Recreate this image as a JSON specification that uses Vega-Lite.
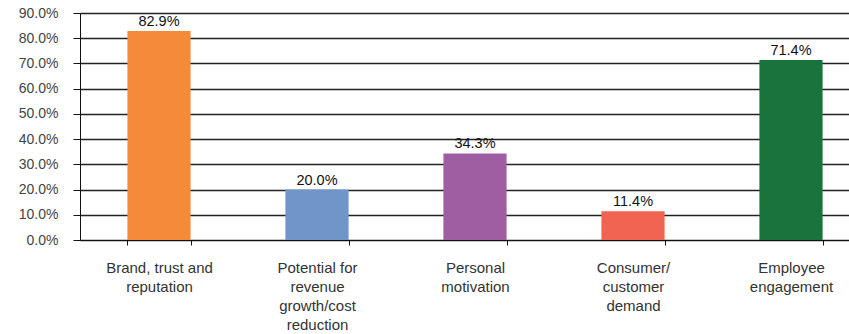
{
  "$schema": "https://vega.github.io/schema/vega-lite/v6.json",
  "autosize": {"type": "none"},
  "padding": {"left": 80, "top": 13, "right": 0, "bottom": 94},
  "width": 769,
  "height": 227,
  "background": "white",
  "config": {
    "view": {"stroke": null},
    "font": "Liberation Sans"
  },
  "data": {
    "values": [
      {"category": "Brand, trust and|reputation", "value": 0.829, "color": "#F58B3A"},
      {"category": "Potential for|revenue|growth/cost|reduction", "value": 0.200, "color": "#7095C8"},
      {"category": "Personal|motivation", "value": 0.343, "color": "#A05EA2"},
      {"category": "Consumer/|customer|demand", "value": 0.114, "color": "#F06451"},
      {"category": "Employee|engagement", "value": 0.714, "color": "#18743C"}
    ]
  },
  "encoding": {
    "x": {
      "field": "category",
      "type": "nominal",
      "sort": null,
      "scale": {"range": [0, 790], "paddingInner": 0.6, "paddingOuter": 0.3},
      "axis": {
        "title": null,
        "labelAngle": 0,
        "labelExpr": "split(datum.label, '|')",
        "labelFontSize": 15,
        "labelColor": "#333333",
        "labelLineHeight": 19,
        "labelPadding": 15,
        "tickBand": "extent",
        "tickSize": 5,
        "tickColor": "#111111",
        "domainColor": "#111111",
        "labelLimit": 200
      }
    },
    "y": {
      "field": "value",
      "type": "quantitative",
      "scale": {"domain": [0, 0.9]},
      "axis": {
        "title": null,
        "format": ".1%",
        "values": [0, 0.1, 0.2, 0.3, 0.4, 0.5, 0.6, 0.7, 0.8, 0.9],
        "labelFontSize": 14,
        "labelColor": "#444444",
        "labelPadding": 15,
        "tickSize": 7,
        "tickColor": "#111111",
        "domainColor": "#111111",
        "grid": true,
        "gridColor": "#222222",
        "gridWidth": 1.3
      }
    }
  },
  "layer": [
    {
      "mark": {"type": "bar"},
      "encoding": {
        "color": {"field": "color", "type": "nominal", "scale": null}
      }
    },
    {
      "mark": {"type": "text", "baseline": "alphabetic", "dy": -5, "fontSize": 14.5, "color": "#111111"},
      "encoding": {
        "text": {"field": "value", "type": "quantitative", "format": ".1%"}
      }
    }
  ]
}
